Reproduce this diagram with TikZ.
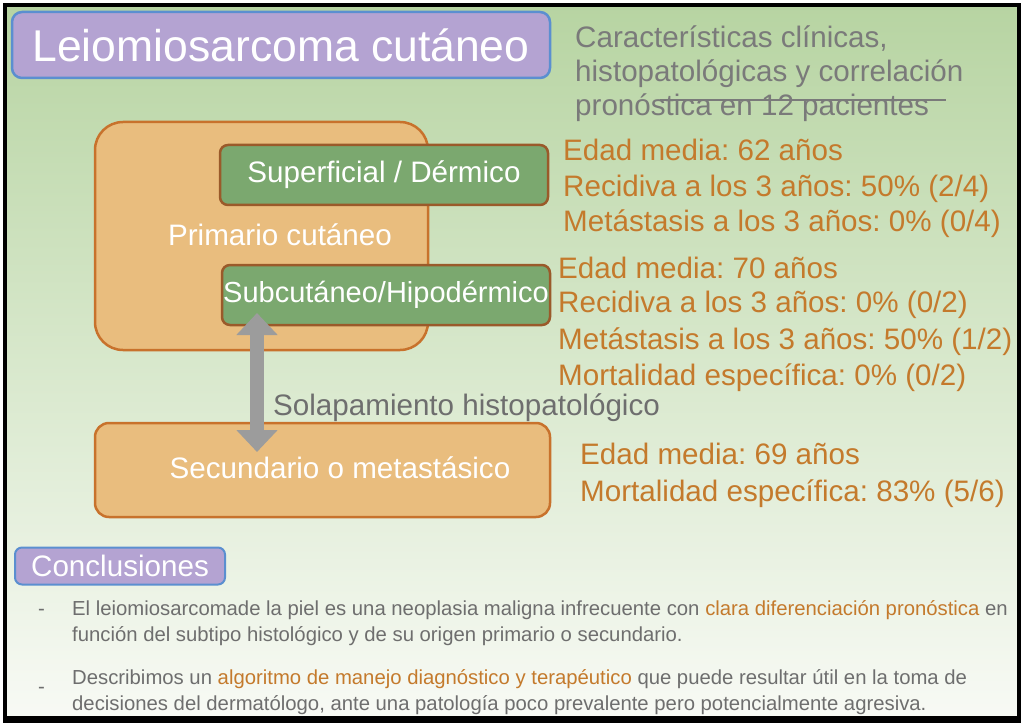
\documentclass[tikz,border=0pt]{standalone}
\usepackage{fontspec}
\setmainfont{Liberation Sans}
\usetikzlibrary{arrows.meta}
\frenchspacing
\definecolor{bgtop}{HTML}{B7D4A2}
\definecolor{bgmid}{HTML}{D8E8CC}
\definecolor{bgbot}{HTML}{F8FAF5}
\definecolor{purfill}{HTML}{B4A3D2}
\definecolor{purline}{HTML}{5B8FD0}
\definecolor{orfill}{HTML}{E9BD7E}
\definecolor{orline}{HTML}{C8722C}
\definecolor{grfill}{HTML}{7BA86F}
\definecolor{grline}{HTML}{9A5A2A}
\definecolor{arrgray}{HTML}{9C9C9C}
\definecolor{ortext}{HTML}{C47A2C}
\definecolor{graytext}{HTML}{7A7A7A}
\definecolor{bultext}{HTML}{6E6E6E}
\tikzset{
  bigfont/.style={font=\fontsize{29.6}{35}\selectfont\frenchspacing},
  titlebox/.style={draw=purline, line width=2.5pt, fill=purfill, rounded corners=10pt, text=white},
  orbox/.style={draw=orline, line width=2.5pt, fill=orfill, rounded corners=28pt},
  grbox/.style={draw=grline, line width=2.5pt, fill=grfill, rounded corners=8pt, text=white, bigfont, inner sep=0pt},
  statline/.style={anchor=base west, text=ortext, bigfont, inner sep=0pt},
  subline/.style={anchor=base west, text=graytext, bigfont, inner sep=0pt},
  bulline/.style={anchor=base west, text=bultext, font=\fontsize{20.3}{26}\selectfont\frenchspacing, inner sep=0pt},
  whitelabel/.style={text=white, bigfont, inner sep=0pt},
  bigarrow/.style={draw=arrgray, line width=14pt, {Triangle[width=40pt,length=22pt]}-{Triangle[width=40pt,length=22pt]}},
}
\begin{document}
\begin{tikzpicture}[x=1pt,y=-1pt]
\useasboundingbox (0,0) rectangle (1024,727);
\fill[white] (0,0) rectangle (1024,727);
\shade[top color=bgtop, bottom color=bgbot, middle color=bgmid] (5,5) rectangle (1019,720);
\draw[black, line width=4pt] (5,5) rectangle (1019,720);
\draw[black, line width=7pt] (3,719) -- (1021,719);

% title
\node[titlebox, minimum width=538pt, minimum height=66pt, font=\fontsize{44.5}{50}\selectfont] (title) at (281,45) {Leiomiosarcoma cutáneo};
\node[subline] (sub1) at (575,48) {Características clínicas,};
\node[subline] (sub2) at (575,82) {histopatológicas y correlación};
\node[subline] (sub3) at (575,116) {pronóstica en 12 pacientes};
\coordinate (strikeA) at (660,100);
\coordinate (strikeB) at (946,100);
\draw[graytext, line width=1.2pt] (strikeA) -- (strikeB);

% boxes
\node[orbox, minimum width=333pt, minimum height=228pt] (prim) at (261.5,236) {};
\node[whitelabel] (primlab) at (280,235) {Primario cutáneo};
\node[grbox, minimum width=328pt, minimum height=60pt] (sup) at (384,175) {Superficial / Dérmico};
\node[grbox, minimum width=328pt, minimum height=60pt, font=\fontsize{29}{35}\selectfont] (subc) at (386,295) {Subcutáneo/Hipodérmico};
\node[orbox, rounded corners=14pt, minimum width=455pt, minimum height=94pt] (sec) at (322.5,470) {};
\node[whitelabel] (seclab) at (340,468) {Secundario o metastásico};

% arrow
\coordinate (arrA) at (257,313);
\coordinate (arrB) at (257,452);
\draw[bigarrow] (arrA) -- (arrB);
\node[subline, text=graytext!90!black] (solap) at (273,415) {Solapamiento histopatológico};

% stats
\node[statline] (s1) at (563,161) {Edad media: 62 años};
\node[statline] (s2) at (563,197) {Recidiva a los 3 años: 50\% (2/4)};
\node[statline] (s3) at (563,232) {Metástasis a los 3 años: 0\% (0/4)};
\node[statline] (t1) at (558,278) {Edad media: 70 años};
\node[statline] (t2) at (558,312) {Recidiva a los 3 años: 0\% (0/2)};
\node[statline] (t3) at (558,349) {Metástasis a los 3 años: 50\% (1/2)};
\node[statline] (t4) at (558,385) {Mortalidad específica: 0\% (0/2)};
\node[statline] (u1) at (580,464) {Edad media: 69 años};
\node[statline] (u2) at (580,501) {Mortalidad específica: 83\% (5/6)};

% conclusions
\node[titlebox, line width=2pt, rounded corners=7pt, minimum width=210pt, minimum height=37pt, bigfont, inner sep=0pt] (concl) at (120,566) {Conclusiones};
\node[bulline] (d1) at (38,615) {-};
\node[bulline] (b1) at (72,615) {El leiomiosarcomade la piel es una neoplasia maligna infrecuente con \textcolor{ortext}{clara diferenciación pronóstica} en};
\node[bulline] (b2) at (72,641) {función del subtipo histológico y de su origen primario o secundario.};
\node[bulline] (d2) at (38,693) {-};
\node[bulline] (b3) at (72,684) {Describimos un \textcolor{ortext}{algoritmo de manejo diagnóstico y terapéutico} que puede resultar útil en la toma de};
\node[bulline] (b4) at (72,710) {decisiones del dermatólogo, ante una patología poco prevalente pero potencialmente agresiva.};
\end{tikzpicture}
\end{document}
